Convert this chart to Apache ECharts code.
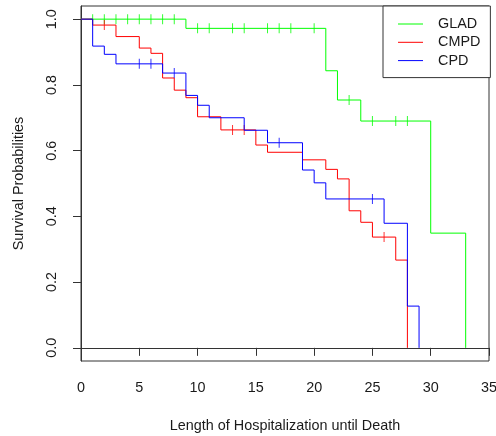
<!DOCTYPE html>
<html>
<head>
<meta charset="utf-8">
<script src="https://cdn.jsdelivr.net/npm/echarts@6/dist/echarts.min.js"></script>
<style>
html,body{margin:0;padding:0;background:#fff;}
#chart{width:496px;height:436px;}
</style>
</head>
<body>
<div id="chart"></div>
<script>
// Kaplan-Meier step data: [time, survival after the event]
const gladTimes = [0, 9, 21, 22, 24, 30, 33];
const gladSurv  = [1.0, 0.972, 0.843, 0.754, 0.690, 0.349, 0.0];
const cmpdTimes = [0, 1, 3, 5, 6, 7, 8, 9, 10, 12, 15, 16, 19, 21, 22, 23, 24, 25, 27, 28];
const cmpdSurv  = [1.0, 0.982, 0.947, 0.912, 0.896, 0.821, 0.784, 0.761, 0.703, 0.663, 0.617, 0.595, 0.572, 0.543, 0.514, 0.417, 0.382, 0.337, 0.267, 0.0];
const cpdTimes  = [0, 1, 2, 3, 7, 9, 10, 11, 14, 16, 19, 20, 21, 26, 28, 29];
const cpdSurv   = [1.0, 0.918, 0.893, 0.864, 0.836, 0.768, 0.738, 0.700, 0.662, 0.624, 0.541, 0.502, 0.453, 0.379, 0.127, 0.0];

// censoring marks: [time, survival]
const gladCensTimes = [1, 2, 3, 4, 5, 6, 7, 8, 10, 11, 13, 14, 16, 17, 18, 20, 23, 25, 27, 28];
const gladCensSurv  = [1, 1, 1, 1, 1, 1, 1, 1, 0.972, 0.972, 0.972, 0.972, 0.972, 0.972, 0.972, 0.972, 0.754, 0.690, 0.690, 0.690];
const cmpdCensTimes = [2, 13, 14, 26];
const cmpdCensSurv  = [0.982, 0.663, 0.663, 0.337];
const cpdCensTimes  = [5, 6, 8, 17, 25];
const cpdCensSurv   = [0.864, 0.864, 0.836, 0.624, 0.453];

const groupNames = ['GLAD', 'CMPD', 'CPD'];
const groupColors = ['#00ff00', '#ff0000', '#0000ff'];
const xTicks = [0, 5, 10, 15, 20, 25, 30, 35];
const yTicks = [0, 0.2, 0.4, 0.6, 0.8, 1.0];

const zip = (a, b) => a.map((v, i) => [v, b[i]]);
const stepData = [zip(gladTimes, gladSurv), zip(cmpdTimes, cmpdSurv), zip(cpdTimes, cpdSurv)];
const censData = [zip(gladCensTimes, gladCensSurv), zip(cmpdCensTimes, cmpdCensSurv), zip(cpdCensTimes, cpdCensSurv)];

const FONT = "'Liberation Sans', Arial, sans-serif";
const TXT = '#1a1a1a';
const LINE = '#333';

const series = [];
groupNames.forEach((n, i) => {
  series.push({
    name: n, type: 'line', step: 'end', data: stepData[i],
    symbol: 'none', showSymbol: false, z: 2 + i,
    lineStyle: { color: groupColors[i], width: 1 },
    itemStyle: { color: groupColors[i] },
    emphasis: { disabled: true }, silent: true
  });
});
groupNames.forEach((n, i) => {
  series.push({
    name: n + ' censored', type: 'scatter', data: censData[i],
    symbol: 'rect', symbolSize: [1, 10], z: 2 + i,
    itemStyle: { color: groupColors[i] },
    emphasis: { disabled: true }, silent: true
  });
});

const chart = echarts.init(document.getElementById('chart'), null, { renderer: 'canvas' });
chart.setOption({
  animation: false,
  backgroundColor: '#fff',
  grid: { left: 81, right: 7, top: 6, bottom: 75, show: true, borderColor: LINE, borderWidth: 1, containLabel: false, outerBoundsMode: 'none' },
  legend: {
    data: groupNames, orient: 'vertical', left: 383, top: 6,
    itemWidth: 25, itemHeight: 14, itemGap: 4.3,
    padding: [11, 10, 10, 14.5],
    borderColor: LINE, borderWidth: 1, backgroundColor: '#fff',
    itemStyle: { opacity: 0, borderWidth: 0 },
    lineStyle: { width: 1 },
    textStyle: { fontFamily: FONT, fontSize: 14.4, color: TXT, padding: [0, 0, 0, 10] },
    selectedMode: false
  },
  xAxis: {
    type: 'value', min: 0, max: 35, interval: 5,
    name: 'Length of Hospitalization until Death', nameLocation: 'middle', nameGap: 58,
    nameTextStyle: { fontFamily: FONT, fontSize: 14.4, color: TXT },
    axisLine: { show: true, lineStyle: { color: LINE, width: 1 } },
    axisTick: { show: true, inside: false, length: 8, lineStyle: { color: LINE } },
    axisLabel: { fontFamily: FONT, fontSize: 14.4, color: TXT, margin: 20,
      customValues: xTicks, formatter: v => String(v) },
    splitLine: { show: false }
  },
  yAxis: {
    type: 'value', min: -0.04, max: 1.04,
    name: 'Survival Probabilities', nameLocation: 'middle', nameGap: 55, nameRotate: 90,
    nameTextStyle: { fontFamily: FONT, fontSize: 14.4, color: TXT },
    axisLine: { show: true, lineStyle: { color: LINE, width: 1 } },
    axisTick: { show: true, inside: false, length: 8, customValues: yTicks, lineStyle: { color: LINE } },
    axisLabel: { fontFamily: FONT, fontSize: 14.4, color: TXT, margin: 22, rotate: 90,
      customValues: yTicks, formatter: v => v.toFixed(1) },
    splitLine: { show: false }
  },
  series: series
});
</script>
</body>
</html>
